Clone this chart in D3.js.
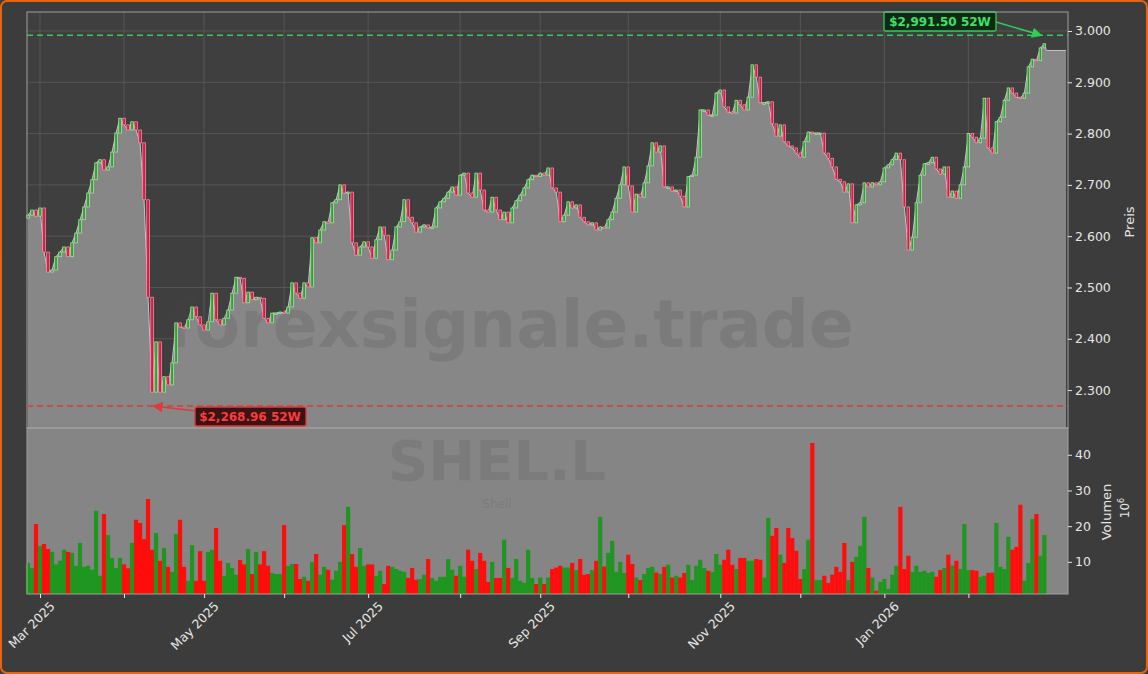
<!DOCTYPE html>
<html><head><meta charset="utf-8">
<script src="https://cdn.jsdelivr.net/npm/d3@7"></script>
<style>body{margin:0;background:#3c3c3c;}svg{display:block;font-family:"DejaVu Sans",sans-serif;}</style>
</head><body><svg id="c" width="1148" height="674"></svg>
<script>
const startDate = "2025-02-26";
const holidays = ["2025-04-18","2025-04-21","2025-05-05","2025-05-26","2025-08-25","2025-12-25","2025-12-26","2026-01-01"];
const firstOpen = 2.635;
const closes = [2.641,2.651,2.639,2.655,2.569,2.530,2.534,2.560,2.569,2.579,2.560,2.587,2.606,2.632,2.657,2.684,2.710,2.743,2.749,2.729,2.735,2.764,2.801,2.830,2.817,2.807,2.823,2.807,2.782,2.671,2.481,2.296,2.394,2.296,2.326,2.310,2.353,
2.431,2.423,2.421,2.437,2.462,2.443,2.427,2.417,2.433,2.489,2.437,2.427,2.440,2.456,2.489,2.520,2.518,2.470,2.491,2.476,2.481,2.479,2.440,2.431,2.450,2.450,2.452,2.450,2.462,2.509,2.489,2.479,2.509,2.501,2.597,2.587,2.612,
2.628,2.626,2.665,2.671,2.700,2.684,2.686,2.587,2.563,2.579,2.589,2.579,2.557,2.593,2.618,2.602,2.554,2.573,2.618,2.628,2.671,2.637,2.626,2.608,2.618,2.622,2.616,2.618,2.655,2.667,2.674,2.686,2.696,2.680,2.719,2.723,
2.684,2.676,2.723,2.690,2.651,2.647,2.676,2.651,2.632,2.647,2.626,2.655,2.669,2.680,2.694,2.710,2.719,2.716,2.723,2.719,2.733,2.694,2.686,2.628,2.641,2.667,2.655,2.661,2.637,2.628,2.622,2.626,2.612,2.618,2.616,2.632,
2.647,2.674,2.700,2.735,2.698,2.647,2.682,2.676,2.704,2.737,2.782,2.764,2.776,2.696,2.696,2.688,2.690,2.678,2.657,2.716,2.719,2.754,2.846,2.846,2.836,2.836,2.879,2.885,2.852,2.842,2.840,2.865,2.856,2.846,2.871,2.934,
2.910,2.860,2.860,2.862,2.819,2.795,2.817,2.784,2.776,2.772,2.762,2.754,2.784,2.803,2.801,2.801,2.801,2.762,2.752,2.735,2.711,2.706,2.686,2.702,2.626,2.661,2.665,2.704,2.696,2.704,2.700,2.706,2.733,2.739,2.749,2.762,2.749,
2.657,2.573,2.598,2.665,2.719,2.741,2.743,2.754,2.731,2.721,2.735,2.676,2.688,2.674,2.700,2.735,2.800,2.793,2.782,2.791,2.869,2.772,2.762,2.823,2.832,2.865,2.889,2.879,2.871,2.869,2.879,2.930,2.945,2.942,2.967,2.975];
const volumes = [9.7,8.3,20.6,14.5,15,13.6,12.8,9.3,10.3,13.4,12.8,12.5,8.9,15.3,8.6,8.9,7.8,24.3,6.1,23.4,17.5,11.1,8.3,11.1,9.3,8.2,15.3,21.8,20.9,16.4,27.6,13.4,18.1,10.3,13.9,8.6,7.2,17.8,21.8,8.6,4.7,14.7,4.7,13,4.7,12.8,13.4,19.5,10.3,6.1,9.7,8.3,6.4,10.5,9.3,13.6,6.6,12.8,9.3,13,8.9,6.9,6.6,6.6,20.3,8.9,9.4,9.4,5.2,5.8,4.7,10,12.2,6.4,8.6,7.8,5,7.5,10,20.3,25.4,12.2,8.6,13.9,8.9,9.3,9.3,6.1,7.5,3.8,8.9,8.6,8,7.5,7.2,5.5,8.3,5,5.2,6.4,10.8,5.5,4.7,5.8,5.8,10.8,7.8,6.1,8.9,5.8,13.4,10.3,8,12.5,10.3,4.4,10,5.5,5.5,16.2,8.3,5.5,10.8,4.7,4.1,13.4,5.5,3.8,
5.6,3.8,5.6,8.0,8.4,8.9,8.4,8.4,9.7,7.7,10.8,6.4,6.6,7.7,10.3,22.6,8.7,12.5,15.9,7.2,10.0,6.9,12.0,9.4,5.6,4.9,6.6,8.3,8.6,7.0,
6.6,8.6,9.2,5.6,6.1,5.6,6.9,9.2,4.9,8.9,10.6,8.3,7.5,7.2,12.2,9.2,10.6,13.4,9.2,8.0,11.1,11.1,10.3,10.3,10.8,10.6,5.6,22.3,17.3,19.5,12.0,
9.7,19.5,16.7,13.1,5.2,8.0,16.2,43.3,4.9,4.9,6.1,4.1,6.4,8.6,7.2,15.3,4.9,10.0,11.4,14.5,22.6,8.3,5.6,1.9,4.4,5.2,2.4,6.4,8.9,25.4,8.0,
11.7,7.2,8.9,7.2,7.5,6.9,7.2,5.8,7.7,8.3,12.0,9.0,10.3,8.0,20.6,7.7,7.7,7.5,5.8,6.1,6.9,7.0,
20.9,8.6,8.0,17.0,13.4,14.2,26.0,4.7,9.7,22.0,23.4,11.7,17.5];
const priceTicks = [2.3,2.4,2.5,2.6,2.7,2.8,2.9,3.0];
const volTicks = [10,20,30,40];
const high52 = 2.9915, low52 = 2.26896;
const high52Label = "$2,991.50 52W", low52Label = "$2,268.96 52W";
const areaTail = 2.962;

const hol = new Set(holidays);
const dates = [];
let d = new Date(startDate+"T12:00:00Z");
while (dates.length < closes.length) {
  const s = d.toISOString().slice(0,10), wd = d.getUTCDay();
  if (wd!==0 && wd!==6 && !hol.has(s)) dates.push(new Date(d));
  d = new Date(d.getTime()+86400000);
}
const data = closes.map((c,i)=>({i, date:dates[i], open: i===0?firstOpen:closes[i-1], close:c, vol:volumes[i]}));

const svg = d3.select("#c");
const L=27, R=1068, PT=12, PB=428, VB=594;
const x = d3.scaleLinear().domain([-0.25,259.9]).range([L,R]);
const y = d3.scaleLinear().domain([2.2261,3.037]).range([PB,PT]);
const yv = d3.scaleLinear().domain([1,47.5]).range([VB,PB]);

svg.append("rect").attr("x",1).attr("y",1).attr("width",1146).attr("height",672).attr("rx",6)
  .attr("fill","#3c3c3c").attr("stroke","#e8650f").attr("stroke-width",2);
svg.append("rect").attr("x",L).attr("y",PT).attr("width",R-L).attr("height",PB-PT).attr("fill","#3f3f3f");
svg.append("rect").attr("x",L).attr("y",PB).attr("width",R-L).attr("height",VB-PB).attr("fill","#858585");

const monthIdx = [];
data.forEach((p,i)=>{ if(i>0 && p.date.getUTCMonth()!==data[i-1].date.getUTCMonth()) monthIdx.push(i); });
const grid = svg.append("g").attr("stroke","#5c5c5c").attr("stroke-width",0.8);
monthIdx.forEach(i=>grid.append("line").attr("x1",x(i)).attr("x2",x(i)).attr("y1",PT).attr("y2",PB));
priceTicks.forEach(t=>grid.append("line").attr("x1",L).attr("x2",R).attr("y1",y(t)).attr("y2",y(t)));

const n = data.length;
const areaPts = data.map(p=>({i:p.i, v:p.close})).concat([{i:n-1+0.5, v:areaTail},{i:259.4, v:areaTail}]);
svg.append("path").datum(areaPts).attr("fill","#878787")
  .attr("d",d3.area().x(p=>x(p.i)).y0(PB).y1(p=>y(p.v)));
svg.append("path").datum(areaPts).attr("fill","none").attr("stroke","#c4c4c4").attr("stroke-width",1)
  .attr("d",d3.line().x(p=>x(p.i)).y(p=>y(p.v)));

svg.append("text").attr("x",510).attr("y",347).attr("text-anchor","middle").attr("font-size",66).attr("font-weight","bold")
  .attr("fill","#4a4a4a").attr("fill-opacity",0.18).text("forexsignale.trade");

const cw = 2.6;
svg.append("g").selectAll("rect").data(data).join("rect")
  .attr("x",p=>x(p.i)-cw/2).attr("width",cw)
  .attr("y",p=>y(Math.max(p.open,p.close)))
  .attr("height",p=>Math.max(1.5,Math.abs(y(p.open)-y(p.close))))
  .attr("fill",p=>p.close>=p.open?"#3a9a3a":"#d81b45")
  .attr("stroke",p=>p.close>=p.open?"#a8f0a8":"#ff9aae").attr("stroke-width",0.7);

svg.append("line").attr("x1",L).attr("x2",R).attr("y1",y(high52)).attr("y2",y(high52)).attr("stroke","#2ecc55").attr("stroke-width",1.5).attr("stroke-dasharray","6,4");
svg.append("line").attr("x1",L).attr("x2",R).attr("y1",y(low52)).attr("y2",y(low52)).attr("stroke","#e03a3a").attr("stroke-width",1.5).attr("stroke-dasharray","6,4");
const defs = svg.append("defs");
[["ag","#2ecc55"],["ar","#e03a3a"]].forEach(([id,c])=>defs.append("marker").attr("id",id).attr("viewBox","0 0 10 10").attr("refX",9).attr("refY",5)
  .attr("markerWidth",7).attr("markerHeight",7).attr("orient","auto").append("path").attr("d","M0,0L10,5L0,10z").attr("fill",c));
const hiI = d3.maxIndex(data,p=>p.close);
svg.append("line").attr("x1",996).attr("y1",22).attr("x2",x(hiI)-3).attr("y2",y(high52)).attr("stroke","#2ecc55").attr("stroke-width",1.5).attr("marker-end","url(#ag)");
svg.append("rect").attr("x",884).attr("y",12).attr("width",112).attr("height",19).attr("rx",2).attr("fill","#0f2a14").attr("stroke","#2ecc55").attr("stroke-width",1.3);
svg.append("text").attr("x",940).attr("y",26).attr("text-anchor","middle").attr("font-size",12).attr("font-weight","bold").attr("fill","#3ee06a").text(high52Label);
const loI = d3.minIndex(data,p=>p.close);
svg.append("line").attr("x1",196).attr("y1",411).attr("x2",x(loI)+1).attr("y2",y(low52)).attr("stroke","#e03a3a").attr("stroke-width",1.5).attr("marker-end","url(#ar)");
svg.append("rect").attr("x",195).attr("y",407).attr("width",111).attr("height",19).attr("rx",2).attr("fill","#3a1414").attr("stroke","#e03a3a").attr("stroke-width",1.3);
svg.append("text").attr("x",250).attr("y",421).attr("text-anchor","middle").attr("font-size",12).attr("font-weight","bold").attr("fill","#ff3b3b").text(low52Label);

svg.append("text").attr("x",497).attr("y",480).attr("text-anchor","middle").attr("font-size",56).attr("font-weight","bold").attr("fill","#7b7b7b").text("SHEL.L");
svg.append("text").attr("x",497).attr("y",508).attr("text-anchor","middle").attr("font-size",12).attr("fill","#7b7b7b").text("Shell");
svg.append("g").selectAll("rect").data(data).join("rect")
  .attr("x",p=>x(p.i)-2.1).attr("width",4.2).attr("y",p=>yv(p.vol)).attr("height",p=>VB-yv(p.vol))
  .attr("fill",p=>p.close>=p.open?"#1f961f":"#ff0d0d");

svg.append("rect").attr("x",L).attr("y",PT).attr("width",R-L).attr("height",PB-PT).attr("fill","none").attr("stroke","#a0a0a0");
svg.append("rect").attr("x",L).attr("y",PB).attr("width",R-L).attr("height",VB-PB).attr("fill","none").attr("stroke","#a0a0a0");

const tc="#e6e6e6";
const ax = svg.append("g").attr("transform",`translate(${R},0)`).call(d3.axisRight(y).tickValues(priceTicks).tickFormat(d3.format(".3f")).tickSize(4));
const av = svg.append("g").attr("transform",`translate(${R},0)`).call(d3.axisRight(yv).tickValues(volTicks).tickSize(4));
[ax,av].forEach(a=>{a.select(".domain").remove();a.selectAll("line").attr("stroke",tc);a.selectAll("text").attr("fill",tc).attr("font-size",12.5).attr("font-family","DejaVu Sans");});
svg.append("text").attr("transform","translate(1134,222) rotate(-90)").attr("text-anchor","middle").attr("font-size",13).attr("fill",tc).text("Preis");
svg.append("text").attr("transform","translate(1111,512) rotate(-90)").attr("text-anchor","middle").attr("font-size",13).attr("fill",tc).text("Volumen");
const exp = svg.append("text").attr("transform","translate(1129,508) rotate(-90)").attr("text-anchor","middle").attr("font-size",12).attr("fill",tc);
exp.append("tspan").text("10"); exp.append("tspan").attr("font-size",8).attr("dy",-5).text("6");

const fmt = d3.utcFormat("%b %Y");
const bx = svg.append("g").attr("transform",`translate(0,${VB})`).call(d3.axisBottom(x).tickValues(monthIdx).tickSize(4).tickFormat((i)=>{const m=data[i].date.getUTCMonth();return m%2===0?fmt(data[i].date):"";}));
bx.select(".domain").remove(); bx.selectAll("line").attr("stroke",tc);
bx.selectAll("text").attr("fill",tc).attr("font-size",12.5).attr("font-family","DejaVu Sans")
  .attr("text-anchor","end").attr("transform","translate(4,2) rotate(-45)").attr("dy","0.7em");
</script></body></html>
